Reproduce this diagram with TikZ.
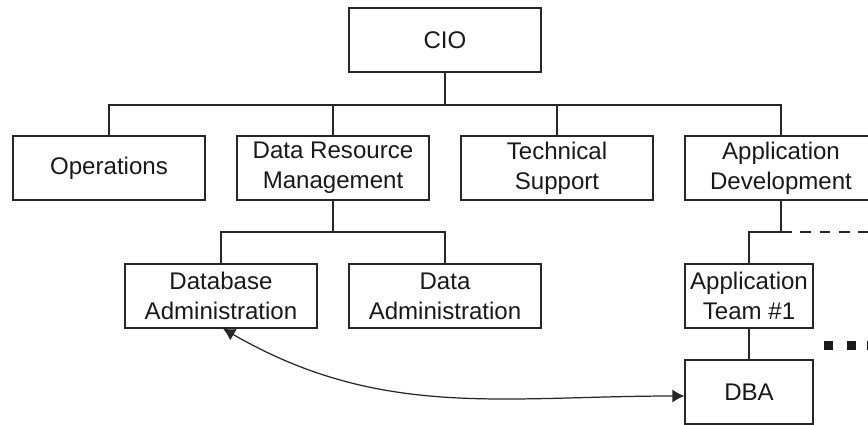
\documentclass[tikz,border=0pt]{standalone}
\usepackage{fontspec}
\setmainfont{Liberation Sans}
\usepackage{tikz}
\usetikzlibrary{arrows.meta}

\tikzset{
  unit/.style={draw=black!85, line width=.7pt, align=center, inner sep=0pt,
    minimum width=3.84cm, minimum height=1.28cm,
    font=\fontsize{13.7}{17}\selectfont, text=black!90},
  team/.style={unit, minimum width=2.56cm},
  link/.style={draw=black!85, line width=.7pt},
  dot/.style={fill=black!90, inner sep=0pt, minimum size=.18cm}
}

\begin{document}
\begin{tikzpicture}[x=.02cm, y=-.02cm]
\useasboundingbox (0,0) rectangle (868,424);
\node[unit] (cio) at (445,40) {CIO};
\node[unit] (ops) at (109,168) {Operations};
\node[unit] (drm) at (333,168) {Data Resource\\Management};
\node[unit] (tech) at (557,168) {Technical\\Support};
\node[unit] (appdev) at (781,168) {Application\\Development};
\node[unit] (dbadmin) at (221,296) {Database\\Administration};
\node[unit] (dataadmin) at (445,296) {Data\\Administration};
\node[team] (team1) at (749,296) {Application\\Team \#1};
\node[team] (dba) at (749,392) {DBA};
\coordinate (top) at (0,105);
\coordinate (mid) at (0,232);
\coordinate (more) at (868,232);
\draw[link] (cio.south) -- (cio.south |- top);
\draw[link] (ops.north) -- (ops.north |- top) -- (appdev.north |- top) -- (appdev.north);
\draw[link] (drm.north) -- (drm.north |- top) (tech.north) -- (tech.north |- top);
\draw[link] (drm.south) -- (drm.south |- mid);
\draw[link] (dbadmin.north) -- (dbadmin.north |- mid) -- (dataadmin.north |- mid) -- (dataadmin.north);
\draw[link] (appdev.south) -- (appdev.south |- mid) -| (team1.north);
\draw[link, dashed, dash pattern=on 6pt off 5pt] (appdev.south |- mid) -- (more);
\draw[link] (team1) -- (dba);
\node[dot] (d1) at (828.5,345) {};
\node[dot] (d2) at (851,345) {};
\node[dot] (d3) at (871,345) {};
\draw[link, {Latex[length=2.4mm,width=2.6mm]}-{Latex[length=2.4mm,width=2.6mm]}]
  ([xshift=.04cm]dbadmin.south) to[out=-30, in=180] ([yshift=-.08cm]dba.west);
\end{tikzpicture}
\end{document}
